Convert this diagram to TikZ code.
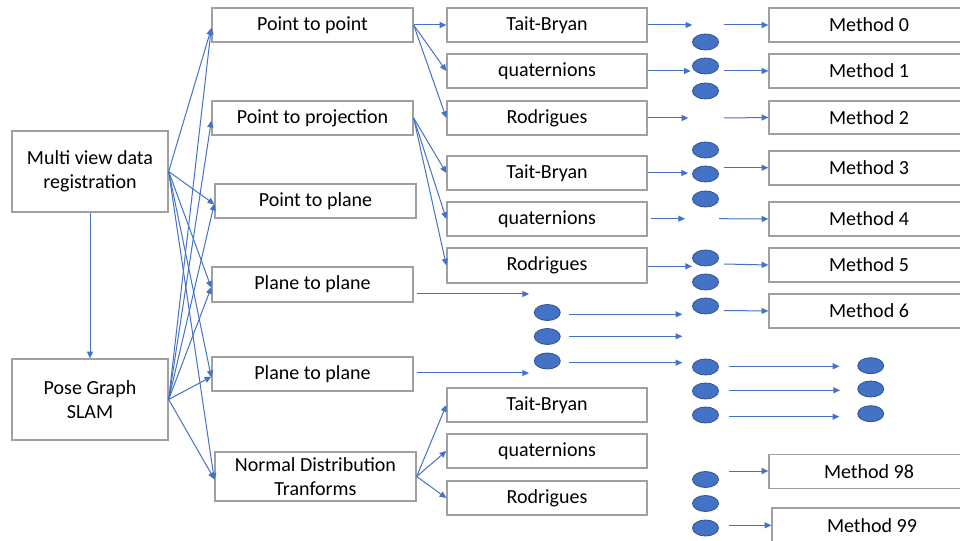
\documentclass[tikz,border=0pt]{standalone}
\usepackage{fontspec}
\setmainfont{Carlito}
\usetikzlibrary{shapes.geometric,arrows.meta}
\definecolor{lnblue}{HTML}{4472C4}
\definecolor{dotedge}{HTML}{2F528F}
\definecolor{boxgray}{HTML}{A0A0A0}
\begin{document}
\begin{tikzpicture}[x=0.75pt,y=-0.75pt,
  box/.style={draw=boxgray, line width=1pt, fill=white, inner sep=0pt, align=center, font=\fontsize{15}{18}\selectfont},
  wh/.style 2 args={minimum width=#1*0.75pt, minimum height=#2*0.75pt},
  dot/.style={ellipse, draw=dotedge, line width=0.6pt, fill=lnblue, minimum width=19.5pt, minimum height=12pt, inner sep=0pt},
  conn/.style={draw=lnblue, line width=0.75pt, -{Triangle[length=5pt,width=4.5pt]}}]
\useasboundingbox (0,0) rectangle (960,541);
\fill[white] (0,0) rectangle (960,541);
\clip (0,0) rectangle (960,541);

% left column
\node[box, wh={156}{81}] (mv) at (90,171.5) {Multi view data\\registration};
\node[box, wh={156}{81}] (pg) at (90,399.5) {Pose Graph\\SLAM};

% second column
\node[box, wh={201}{34}] (pp)  at (312.5,25)   {Point to point};
\node[box, wh={201}{34}] (ppr) at (312.5,118)  {Point to projection};
\node[box, wh={201}{34}] (ppl) at (315.5,201)  {Point to plane};
\node[box, wh={201}{35}] (plA) at (312.5,284.5) {Plane to plane};
\node[box, wh={201}{34}] (plB) at (312.5,374)  {Plane to plane};
\node[box, wh={201}{49}] (ndt) at (315.5,476.5) {Normal Distribution\\Tranforms};

% third column
\node[box, wh={200}{34}] (tbA) at (547,25)    {Tait-Bryan};
\node[box, wh={200}{34}] (qA)  at (547,71)    {quaternions};
\node[box, wh={200}{34}] (rA)  at (547,118)   {Rodrigues};
\node[box, wh={200}{34}] (tbB) at (547,173)   {Tait-Bryan};
\node[box, wh={200}{34}] (qB)  at (547,219)   {quaternions};
\node[box, wh={200}{35}] (rB)  at (547,265.5) {Rodrigues};
\node[box, wh={200}{34}] (tbC) at (547,405)   {Tait-Bryan};
\node[box, wh={200}{34}] (qC)  at (547,451)   {quaternions};
\node[box, wh={200}{34}] (rC)  at (547,498)   {Rodrigues};

% method boxes
\node[box, wh={200}{34}] (m0)  at (869,25)    {Method 0};
\node[box, wh={200}{34}] (m1)  at (869,71)    {Method 1};
\node[box, wh={200}{33}] (m2)  at (869,117.5) {Method 2};
\node[box, wh={200}{34}] (m3)  at (869,168)   {Method 3};
\node[box, wh={200}{34}] (m4)  at (869,219)   {Method 4};
\node[box, wh={200}{34}] (m5)  at (869,265)   {Method 5};
\node[box, wh={200}{34}] (m6)  at (869,311)   {Method 6};
\node[box, wh={200}{34}] (m98) at (869,471.5) {Method 98};
\node[box, wh={200}{36}] (m99) at (872,526)   {Method 99};

% ellipses, column at x=705
\foreach \i/\y in {1/42,2/66,3/91,4/150,5/174,6/199,7/258,8/282,9/306,10/367,11/391,12/415,13/479.5,14/503.5,15/528}
  \node[dot] (ea\i) at (705.5,\y) {};
% ellipses, column at x=547
\foreach \i/\y in {1/312.5,2/336.5,3/361}
  \node[dot] (eb\i) at (547.3,\y) {};
% ellipses, column at x=871
\foreach \i/\y in {1/365.7,2/389,3/413.7}
  \node[dot] (ec\i) at (870.7,\y) {};

% fan from the two left boxes
\draw[conn] (mv.south) -- (pg.north);
\foreach \t in {pp,ppl,plA,plB,ndt}
  \draw[conn] (mv.east) -- ([yshift=-2.5pt]\t.west);
\foreach \t in {pp,ppr,ppl,plA,plB,ndt}
  \draw[conn] (pg.east) -- ([yshift=-2pt]\t.west);

% second to third column
\foreach \t in {tbA,qA,rA} \draw[conn] (pp.east) -- (\t.west);
\foreach \t in {tbB,qB,rB} \draw[conn] (ppr.east) -- (\t.west);
\foreach \t in {tbC,qC,rC} \draw[conn] (ndt.east) -- (\t.west);

% free-ended arrows
\coordinate (plAo) at (416.7,294);
\coordinate (plAe) at (529,294);
\coordinate (plBo) at (416.7,373);
\coordinate (plBe) at (529,373);
\draw[conn] (plAo) -- (plAe);
\draw[conn] (plBo) -- (plBe);

\coordinate (tbAe) at (692.3,25);
\coordinate (qAe)  at (690.7,71);
\coordinate (rAe)  at (688.3,118);
\coordinate (tbBe) at (688,173);
\coordinate (qBo)  at (650.7,218.7);
\coordinate (qBe)  at (685,218.7);
\coordinate (rBe)  at (692,266.3);
\draw[conn] (tbA.east) -- (tbAe);
\draw[conn] (qA.east) -- (qAe);
\draw[conn] (rA.east) -- (rAe);
\draw[conn] (tbB.east) -- (tbBe);
\draw[conn] (qBo) -- (qBe);
\draw[conn] (rB.east |- rBe) -- (rBe);

\coordinate (s0) at (724,25);
\coordinate (s1) at (724,71);
\coordinate (s2) at (724,118);
\coordinate (s3) at (724,167.7);
\coordinate (s4) at (719,218.7);
\coordinate (s5) at (724,264);
\coordinate (s6) at (724,310.5);
\draw[conn] (s0) -- (m0.west |- s0);
\draw[conn] (s1) -- (m1.west |- s1);
\draw[conn] (s2) -- (m2.west);
\draw[conn] (s3) -- (m3.west |- s3);
\draw[conn] (s4) -- (m4.west);
\draw[conn] (s5) -- (m5.west);
\draw[conn] (s6) -- (m6.west);

\coordinate (b1s) at (569,314.3);  \coordinate (b1e) at (682.3,314.3);
\coordinate (b2s) at (569,336.3);  \coordinate (b2e) at (682.3,336.3);
\coordinate (b3s) at (569,362.7);  \coordinate (b3e) at (682.3,362.7);
\draw[conn] (b1s) -- (b1e);
\draw[conn] (b2s) -- (b2e);
\draw[conn] (b3s) -- (b3e);

\coordinate (c1s) at (729,366.3);  \coordinate (c1e) at (839.3,366.3);
\coordinate (c2s) at (729,390.3);  \coordinate (c2e) at (840,390.3);
\coordinate (c3s) at (729,416.7);  \coordinate (c3e) at (839.3,416.7);
\draw[conn] (c1s) -- (c1e);
\draw[conn] (c2s) -- (c2e);
\draw[conn] (c3s) -- (c3e);

\coordinate (d1s) at (729,471);
\coordinate (d2s) at (729,525.3);
\draw[conn] (d1s) -- (m98.west |- d1s);
\draw[conn] (d2s) -- (m99.west |- d2s);
\end{tikzpicture}
\end{document}
